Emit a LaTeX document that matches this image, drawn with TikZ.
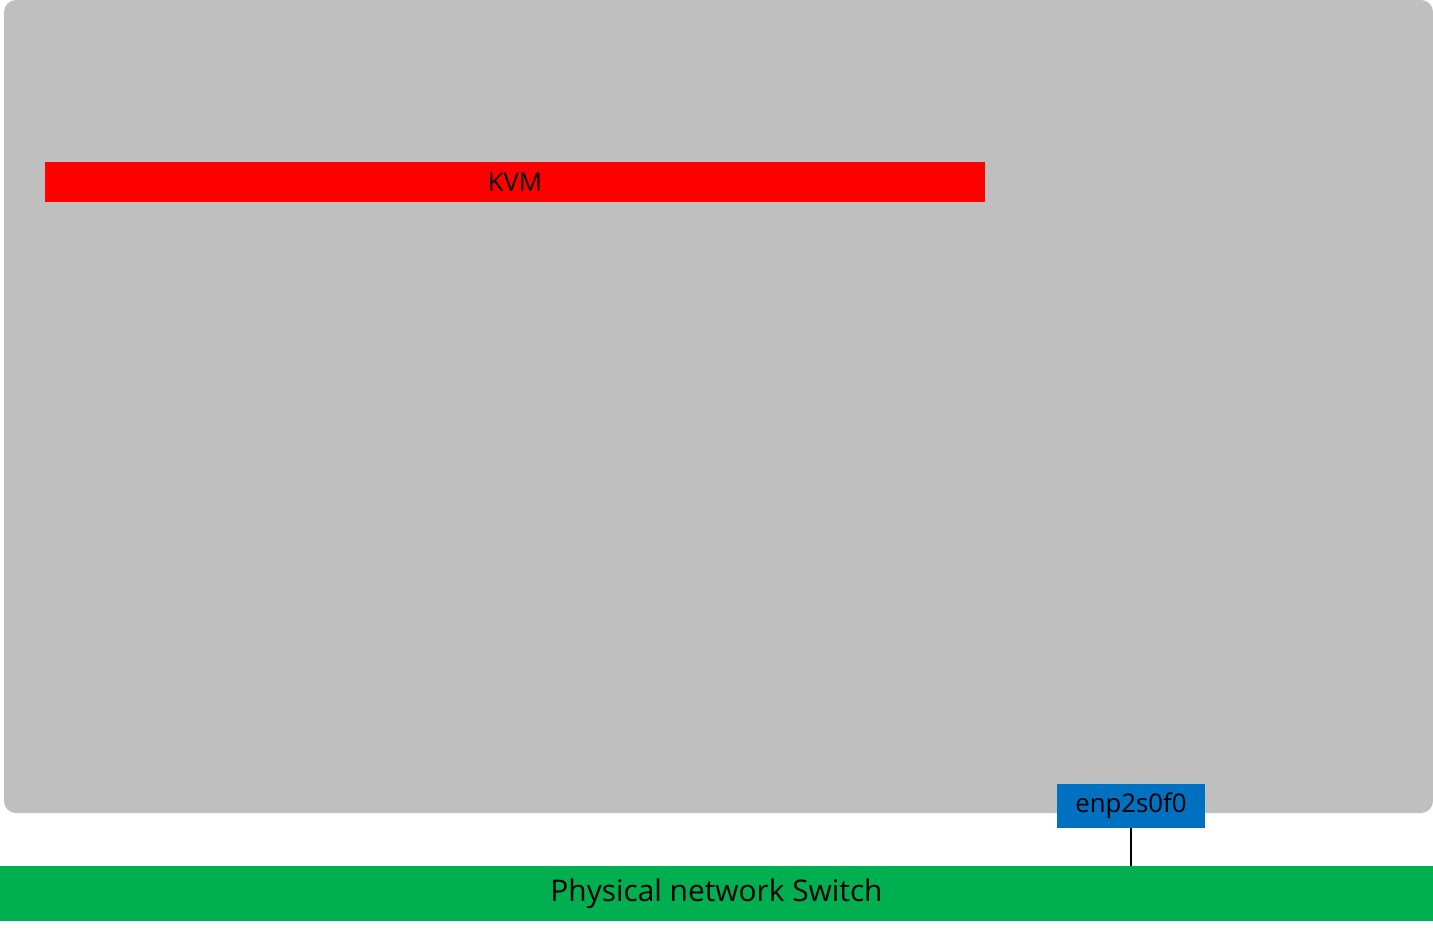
\documentclass[tikz,border=0pt]{standalone}
\usepackage{fontspec}
\setmainfont{Open Sans}
\usepackage{xcolor}
\definecolor{hostgrey}{HTML}{BFBFBF}
\definecolor{kvmred}{HTML}{FF0000}
\definecolor{nicblue}{HTML}{0070C0}
\definecolor{switchgreen}{HTML}{00B050}

\begin{document}
\begin{tikzpicture}[x=0.75pt,y=-0.75pt,
  bar/.style={inner sep=0pt,font=\fontsize{19.3}{21}\selectfont}]
\useasboundingbox[fill=white] (0,0) rectangle (1433,930);
% host
\fill[hostgrey,rounded corners=9pt] (4,0) rectangle (1433,813);
\node[bar,fill=kvmred,minimum width=940*0.75pt,minimum height=40*0.75pt] (kvm) at (515,182) {KVM};
% nic and switch
\node[bar,fill=nicblue,minimum width=148*0.75pt,minimum height=44*0.75pt] (nic) at (1131,806) {enp2s0f0};
\node[bar,fill=switchgreen,minimum width=1433*0.75pt,minimum height=55*0.75pt,font=\fontsize{22.4}{24}\selectfont] (switch) at (716.5,893.5) {Physical network Switch};
\draw[line width=2pt] (nic.south) -- (nic.south |- switch.north);
\end{tikzpicture}
\end{document}
